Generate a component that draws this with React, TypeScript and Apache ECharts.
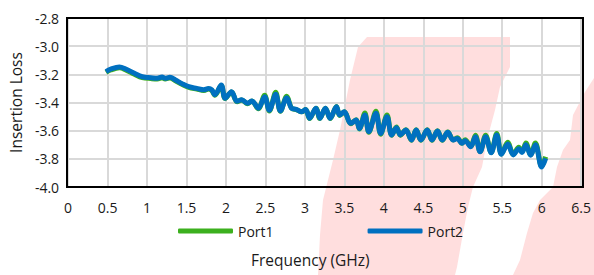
import React, { useEffect, useRef } from "react";
import * as echarts from "echarts";

const frequency = [
  0.48, 0.54, 0.65, 0.73, 0.84, 0.94, 1.05, 1.13, 1.19, 1.23, 1.29, 1.36, 1.45, 1.53, 1.63, 1.72, 1.78, 1.82,
  1.86, 1.94, 1.99, 2.07, 2.14, 2.2, 2.27, 2.33, 2.41, 2.49, 2.55, 2.63, 2.69, 2.77, 2.83, 2.89, 2.96, 3.01,
  3.06, 3.14, 3.19, 3.26, 3.32, 3.4, 3.44, 3.5, 3.58, 3.65, 3.69, 3.76, 3.81, 3.9, 3.96, 4.04, 4.1, 4.16,
  4.21, 4.28, 4.35, 4.41, 4.47, 4.55, 4.61, 4.68, 4.74, 4.81, 4.88, 4.93, 4.99, 5.03, 5.1, 5.16, 5.22, 5.29,
  5.36, 5.43, 5.49, 5.57, 5.64, 5.71, 5.75, 5.8, 5.86, 5.92, 6.0, 6.05,
];

const port1 = [
  -3.186, -3.169, -3.154, -3.168, -3.199, -3.223, -3.23, -3.233, -3.224, -3.233, -3.226, -3.245, -3.273, -3.293, -3.305, -3.315, -3.304, -3.314,
  -3.348, -3.28, -3.372, -3.326, -3.395, -3.382, -3.408, -3.39, -3.445, -3.348, -3.46, -3.328, -3.462, -3.356, -3.44, -3.45, -3.466, -3.45,
  -3.514, -3.44, -3.514, -3.44, -3.514, -3.428, -3.492, -3.466, -3.55, -3.522, -3.588, -3.475, -3.612, -3.462, -3.625, -3.488, -3.632, -3.574,
  -3.632, -3.594, -3.668, -3.594, -3.668, -3.594, -3.668, -3.6, -3.668, -3.61, -3.666, -3.65, -3.69, -3.664, -3.712, -3.632, -3.748, -3.632,
  -3.755, -3.62, -3.765, -3.683, -3.768, -3.718, -3.75, -3.688, -3.77, -3.688, -3.852, -3.785,
];

const port2 = [
  -3.18, -3.163, -3.148, -3.162, -3.193, -3.217, -3.224, -3.228, -3.219, -3.228, -3.221, -3.24, -3.268, -3.288, -3.3, -3.31, -3.3, -3.31,
  -3.345, -3.275, -3.37, -3.323, -3.392, -3.38, -3.405, -3.39, -3.44, -3.36, -3.455, -3.342, -3.46, -3.366, -3.44, -3.449, -3.465, -3.449,
  -3.512, -3.44, -3.512, -3.44, -3.512, -3.43, -3.489, -3.465, -3.548, -3.525, -3.584, -3.489, -3.607, -3.477, -3.62, -3.501, -3.63, -3.579,
  -3.63, -3.596, -3.666, -3.596, -3.666, -3.596, -3.666, -3.603, -3.666, -3.612, -3.666, -3.655, -3.69, -3.671, -3.714, -3.643, -3.75, -3.643,
  -3.757, -3.631, -3.768, -3.695, -3.772, -3.728, -3.755, -3.7, -3.775, -3.7, -3.858, -3.797,
];

const seriesNames = ["Port1", "Port2"];
const xTicks = { min: 0, max: 6.5, interval: 0.5 };
const yTicks = { min: -4.0, max: -2.8, interval: 0.2 };

const FONT = "Open Sans";
const TEXT = "#1a1a1a";
const PINK = "#ffdede";

const GRID = { left: 67, right: 11, top: 18, bottom: 88 };
const W = 594;
const H = 275;

export default function App() {
  const ref = useRef<HTMLDivElement>(null);
  useEffect(() => {
    if (!ref.current) return;
    const chart = echarts.init(ref.current, undefined, { renderer: "svg" });
    const pair = (ys: number[]) => frequency.map((f, i) => [f, ys[i]]);
    chart.setOption({
      animation: false,
      backgroundColor: "#fff",
      textStyle: { fontFamily: FONT },
      graphic: [
        {
          type: "polygon",
          z: -100,
          silent: true,
          shape: {
            points: [
              [367, 37], [510, 37], [510, 67], [500, 87], [495, 110], [487, 140], [482, 167], [473, 187],
              [468, 207], [463, 233], [457, 267], [455, 275], [318, 275], [320, 235], [323, 200], [333, 160],
              [340, 130], [350, 80], [358, 47],
            ],
          },
          style: { fill: PINK },
        },
        {
          type: "polygon",
          z: -100,
          silent: true,
          shape: {
            points: [
              [594, 78], [594, 275], [513, 275], [520, 260], [527, 233], [533, 213], [540, 200], [553, 187],
              [557, 167], [563, 150], [570, 140], [573, 115], [585, 92],
            ],
          },
          style: { fill: PINK },
        },
        {
          type: "rect",
          z: 100,
          silent: true,
          shape: {
            x: GRID.left,
            y: GRID.top,
            width: W - GRID.left - GRID.right,
            height: H - GRID.top - GRID.bottom,
          },
          style: { fill: "none", stroke: "#000", lineWidth: 2 },
        },
        {
          type: "text",
          left: 251,
          top: 252,
          style: { text: "Frequency (GHz)", font: `15.5px "${FONT}"`, fill: TEXT },
        },
      ],
      grid: {
        ...GRID,
        show: false,
        containLabel: false,
      },
      legend: {
        left: 178,
        top: 224,
        padding: 0,
        itemWidth: 55,
        itemHeight: 5,
        itemGap: 94,
        icon: "roundRect",
        textStyle: { fontFamily: FONT, fontSize: 14, color: TEXT },
        data: seriesNames,
      },
      xAxis: {
        type: "value",
        min: xTicks.min,
        max: xTicks.max,
        interval: xTicks.interval,
        axisLine: { show: false },
        axisTick: { show: false },
        axisLabel: { color: TEXT, fontSize: 14, fontFamily: FONT, margin: 13 },
        splitLine: { show: true, lineStyle: { color: "#d9d9d9", width: 2 } },
      },
      yAxis: {
        type: "value",
        min: yTicks.min,
        max: yTicks.max,
        interval: yTicks.interval,
        name: "Insertion Loss",
        nameLocation: "middle",
        nameGap: 44,
        nameTextStyle: { color: TEXT, fontSize: 15.5, fontFamily: FONT },
        axisLine: { show: false },
        axisTick: { show: false },
        axisLabel: {
          color: TEXT,
          fontSize: 14,
          fontFamily: FONT,
          margin: 9,
          formatter: (v: number) => v.toFixed(1),
        },
        splitLine: { show: true, lineStyle: { color: "#d9d9d9", width: 2 } },
      },
      series: [
        {
          name: seriesNames[0],
          type: "line",
          data: pair(port1),
          symbol: "none",
          smooth: 0.35,
          color: "#3cb01e",
          lineStyle: { width: 5, color: "#3cb01e" },
          z: 2,
        },
        {
          name: seriesNames[1],
          type: "line",
          data: pair(port2),
          symbol: "none",
          smooth: 0.35,
          color: "#0070c0",
          lineStyle: { width: 5, color: "#0070c0" },
          z: 3,
        },
      ],
    });
    return () => chart.dispose();
  }, []);
  return <div ref={ref} style={{ width: W, height: H, position: "absolute", left: 0, top: 0 }} />;
}
